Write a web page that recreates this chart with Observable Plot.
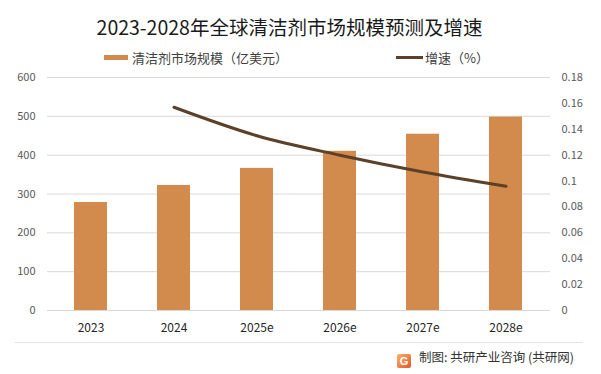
<!DOCTYPE html>
<html>
<head>
<meta charset="utf-8">
<script src="https://cdn.jsdelivr.net/npm/d3@7"></script>
<script src="https://cdn.jsdelivr.net/npm/@observablehq/plot@0.6"></script>
<style>
  html, body { margin: 0; padding: 0; background: #fff; }
  #root { position: relative; width: 601px; height: 374px; overflow: hidden; font-family: "Noto Sans CJK SC", "Noto Sans", sans-serif; }
  #title { position: absolute; left: -11px; width: 601px; top: 13px; text-align: center; font-size: 19.5px; line-height: 28px; color: #1a1a1a; white-space: nowrap; }
  .leg { position: absolute; font-size: 13px; line-height: 16px; color: #404040; white-space: nowrap; }
  .sw { position: absolute; }
  #chart { position: absolute; left: 0; top: 65px; }
  #sep { position: absolute; left: 15px; width: 568px; top: 342px; height: 1px; background: #e3e3e3; }
  #cap { position: absolute; left: 419px; top: 348px; font-size: 12.5px; line-height: 18px; color: #333; white-space: nowrap; }
  #logo { position: absolute; left: 397px; top: 354px; width: 14px; height: 14px; border-radius: 2px; background: linear-gradient(135deg, #f7b267, #e8542b); color: #fff; font: bold 11px/14px "Liberation Sans", sans-serif; text-align: center; }
</style>
</head>
<body>
<div id="root">
  <div id="title">2023-2028年全球清洁剂市场规模预测及增速</div>
  <div class="sw" style="left:104px;top:55px;width:24px;height:5px;background:#D38A4D"></div>
  <div class="leg" style="left:132px;top:50px">清洁剂市场规模（亿美元）</div>
  <div class="sw" style="left:396px;top:56px;width:27px;height:3px;background:#5C4027"></div>
  <div class="leg" style="left:425px;top:50px">增速（%）</div>
  <div id="chart"></div>
  <div id="sep"></div>
  <div id="logo">G</div>
  <div id="cap">制图: 共研产业咨询 (共研网)</div>
</div>
<script>
const years = ["2023", "2024", "2025e", "2026e", "2027e", "2028e"];
const marketSize = [278, 322, 366, 410, 454, 498];
const growth = [null, 0.157, 0.135, 0.12, 0.107, 0.096];
const leftTicks = [0, 100, 200, 300, 400, 500, 600];
const rightTicks = [0, 0.02, 0.04, 0.06, 0.08, 0.1, 0.12, 0.14, 0.16, 0.18];

const k = 600 / 0.18;
const bars = years.map((y, i) => ({year: y, value: marketSize[i]}));
const lineData = years.map((y, i) => ({year: y, g: growth[i]})).filter(d => d.g != null);

const chart = Plot.plot({
  width: 601,
  height: 275,
  marginTop: 12,
  marginBottom: 30,
  marginLeft: 47,
  marginRight: 51,
  style: {fontFamily: "'Noto Sans CJK SC', 'Noto Sans', sans-serif", fontSize: "11px", background: "transparent"},
  x: {domain: years, paddingInner: 0.6, paddingOuter: 0.3, label: null},
  y: {domain: [0, 600], label: null},
  marks: [
    Plot.gridY(leftTicks, {stroke: "#d9d9d9", strokeOpacity: 1}),
    Plot.barY(bars, {x: "year", y: "value", fill: "#D38A4D"}),
    Plot.line(lineData, {x: "year", y: d => d.g * k, stroke: "#5C4027", strokeWidth: 3, curve: "monotone-x"}),
    Plot.axisY(leftTicks, {anchor: "left", tickSize: 0, tickPadding: 12, fill: "#595959", label: null}),
    Plot.axisY(rightTicks.map(v => v * k), {anchor: "right", tickSize: 0, tickPadding: 11, fill: "#595959", label: null,
      tickFormat: d => String(+(d / k).toFixed(2))}),
    Plot.axisX({tickSize: 0, tickPadding: 13, fill: "#262626", fontSize: 12, label: null})
  ]
});
document.getElementById("chart").appendChild(chart);
</script>
</body>
</html>
